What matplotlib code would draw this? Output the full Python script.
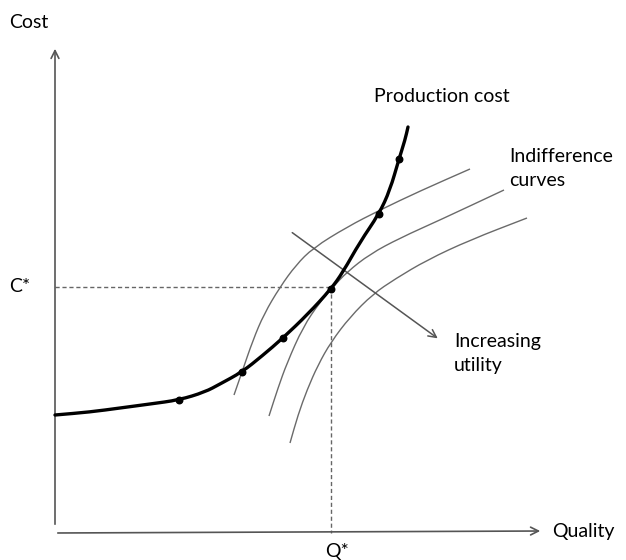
import matplotlib
matplotlib.use("Agg")
import matplotlib.pyplot as plt
from matplotlib.path import Path
from matplotlib.patches import PathPatch

# values, in pixel coordinates (x right, y down)
prod_x = [55, 90, 120, 150, 179, 205, 220, 242, 262, 283, 308, 331, 343, 360, 379, 390, 399, 405, 408]
prod_y = [415, 412, 408, 404, 400, 392, 384, 372, 356, 338, 314, 289, 272, 242, 214, 190, 159, 140, 127]
dots_x = [179, 242, 283, 331, 379, 399]
dots_y = [400, 372, 338, 289, 214, 159]

ic1_x = [234, 242, 253, 264, 280, 296, 313, 347, 380, 420, 470]
ic1_y = [395, 372, 340, 314, 287, 265, 248, 227, 210, 191, 169]
ic2_x = [269, 278, 287, 303, 320, 333, 347, 370, 400, 440, 504]
ic2_y = [416, 388, 363, 327, 302, 287, 272, 254, 238, 220, 190]
ic3_x = [290, 298, 307, 318, 331, 350, 373, 395, 427, 470, 527]
ic3_y = [443, 415, 390, 365, 342, 317, 294, 279, 260, 240, 218]

q_star, c_star = 331, 287


def smooth_path(xs, ys):
    # quadratic bezier through midpoints, control at the read points
    pts = list(zip(xs, ys))
    verts = [pts[0]]
    codes = [Path.MOVETO]
    mid = lambda a, b: ((a[0] + b[0]) / 2, (a[1] + b[1]) / 2)
    verts.append(mid(pts[0], pts[1]))
    codes.append(Path.LINETO)
    for i in range(1, len(pts) - 1):
        verts += [pts[i], mid(pts[i], pts[i + 1])]
        codes += [Path.CURVE3, Path.CURVE3]
    verts.append(pts[-1])
    codes.append(Path.LINETO)
    return Path(verts, codes)


plt.rcParams['font.family'] = ['Lato', 'DejaVu Sans']
fig = plt.figure(figsize=(6.26, 5.6), dpi=100)
ax = fig.add_axes([0, 0, 1, 1])
ax.set_xlim(0, 626)
ax.set_ylim(560, 0)
ax.axis('off')

gray = '#555555'
# axes with open arrows
ax.annotate('', xy=(55, 46), xytext=(55, 527),
            arrowprops=dict(arrowstyle='->', color=gray, lw=1.2, mutation_scale=14))
ax.annotate('', xy=(543, 531), xytext=(55, 533),
            arrowprops=dict(arrowstyle='->', color=gray, lw=1.2, mutation_scale=14))

# dashed guides
ax.plot([55, q_star], [c_star, c_star], ls=(0, (3, 2)), color='#666666', lw=1)
ax.plot([q_star, q_star], [c_star, 533], ls=(0, (3, 2)), color='#666666', lw=1)

# indifference curves
for xs, ys in [(ic1_x, ic1_y), (ic2_x, ic2_y), (ic3_x, ic3_y)]:
    ax.add_patch(PathPatch(smooth_path(xs, ys), fill=False, edgecolor='#6a6a6a', lw=1))

# production cost
ax.add_patch(PathPatch(smooth_path(prod_x, prod_y), fill=False, edgecolor='black',
                       lw=2.4, capstyle='round', zorder=4))
ax.scatter(dots_x, dots_y, s=22, color='black', zorder=5)

# increasing utility arrow
ax.annotate('', xy=(440, 340), xytext=(290, 231),
            arrowprops=dict(arrowstyle='->', color=gray, lw=1.1, mutation_scale=14))

fs = 14
ax.text(9, 23, 'Cost', fontsize=fs, va='center', ha='left')
ax.text(9, 287, 'C*', fontsize=fs, va='center', ha='left')
ax.text(374, 97, 'Production cost', fontsize=fs, va='center', ha='left')
ax.text(509, 156, 'Indifference', fontsize=fs, va='center', ha='left')
ax.text(509, 180, 'curves', fontsize=fs, va='center', ha='left')
ax.text(454, 341, 'Increasing', fontsize=fs, va='center', ha='left')
ax.text(454, 366, 'utility', fontsize=fs, va='center', ha='left')
ax.text(552, 531, 'Quality', fontsize=fs, va='center', ha='left')
ax.text(337, 551, 'Q*', fontsize=fs, va='center', ha='center')

fig.savefig('out.png', dpi=100)
